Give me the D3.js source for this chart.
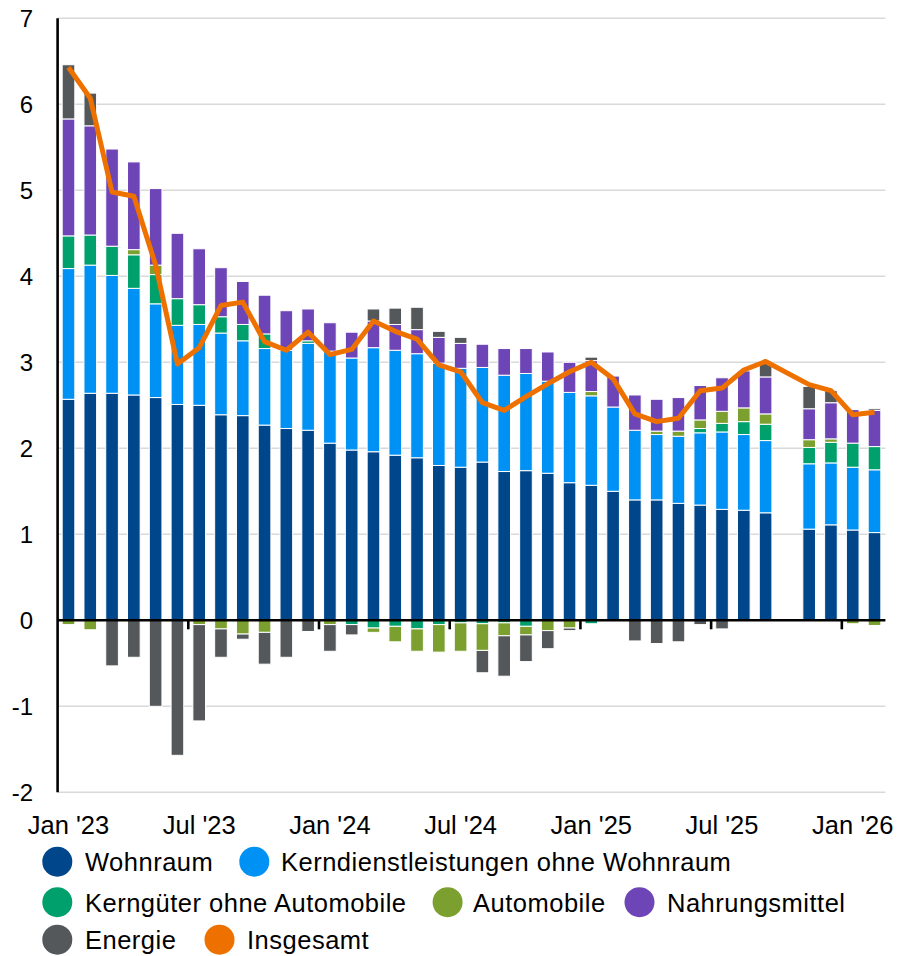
<!DOCTYPE html>
<html>
<head>
<meta charset="utf-8">
<script src="https://cdn.jsdelivr.net/npm/d3@7"></script>
<style>
  html, body { margin: 0; padding: 0; background: #fff; }
  svg { display: block; font-family: "Liberation Sans", Arial, sans-serif; }
</style>
</head>
<body>
<svg id="chart" width="898" height="956"></svg>
<script>
// ---- data (percentage-point contributions to YoY CPI) ----
const months = ["Jan '23","Feb '23","Mar '23","Apr '23","May '23","Jun '23","Jul '23","Aug '23","Sep '23","Oct '23","Nov '23","Dec '23",
  "Jan '24","Feb '24","Mar '24","Apr '24","May '24","Jun '24","Jul '24","Aug '24","Sep '24","Oct '24","Nov '24","Dec '24",
  "Jan '25","Feb '25","Mar '25","Apr '25","May '25","Jun '25","Jul '25","Aug '25","Sep '25","Oct '25","Nov '25","Dec '25",
  "Jan '26","Feb '26"];
const tickLabels = ["Jan '23","Jul '23","Jan '24","Jul '24","Jan '25","Jul '25","Jan '26"];
const yTicks = [-2,-1,0,1,2,3,4,5,6,7];

const wohnraum = [2.57,2.64,2.64,2.62,2.59,2.51,2.50,2.39,2.38,2.27,2.23,2.21,
  2.06,1.98,1.96,1.92,1.89,1.80,1.78,1.84,1.73,1.74,1.71,1.60,
  1.57,1.50,1.40,1.40,1.36,1.34,1.29,1.28,1.25,null,1.06,1.11,
  1.05,1.02];
const kerndienst = [1.52,1.49,1.37,1.24,1.09,0.92,0.94,0.95,0.87,0.89,0.91,1.01,
  1.07,1.07,1.21,1.22,1.21,1.19,1.15,1.10,1.12,1.13,1.07,1.05,
  1.04,0.98,0.81,0.76,0.78,0.84,0.90,0.88,0.84,null,0.76,0.72,
  0.73,0.73];
const kerngueter = [0.38,0.35,0.34,0.39,0.34,0.31,0.23,0.19,0.19,0.17,0.00,0.03,
  0.00,-0.05,-0.09,-0.07,-0.10,-0.05,-0.03,-0.04,-0.03,-0.07,0.00,0.00,
  -0.04,0.00,0.00,0.00,0.00,0.05,0.10,0.15,0.19,null,0.19,0.24,
  0.28,0.27];
const automobile = [-0.05,-0.11,0.00,0.06,0.11,0.00,-0.05,-0.10,-0.16,-0.14,0.00,0.00,
  -0.05,0.00,-0.05,-0.18,-0.26,-0.32,-0.33,-0.31,-0.15,-0.10,-0.12,-0.09,
  0.05,0.00,0.00,0.04,0.06,0.10,0.14,0.16,0.12,null,0.09,0.04,
  -0.04,-0.06];
const nahrung = [1.36,1.27,1.13,1.02,0.89,0.76,0.65,0.57,0.50,0.45,0.46,0.37,
  0.33,0.30,0.31,0.30,0.28,0.30,0.29,0.27,0.31,0.29,0.34,0.35,
  0.36,0.36,0.41,0.37,0.39,0.40,0.39,0.43,0.43,null,0.36,0.42,
  0.39,0.42];
const energie = [0.63,0.38,-0.53,-0.43,-1.00,-1.57,-1.12,-0.33,-0.06,-0.37,-0.43,-0.13,
  -0.31,-0.12,0.14,0.19,0.26,0.07,0.07,-0.26,-0.47,-0.31,-0.21,-0.03,
  0.04,0.00,-0.24,-0.27,-0.25,-0.05,-0.10,0.00,0.16,null,0.26,0.14,
  0.00,0.02];
const insgesamt = [6.43,6.07,4.98,4.93,4.13,2.98,3.17,3.66,3.70,3.24,3.14,3.35,
  3.09,3.15,3.48,3.36,3.27,2.97,2.89,2.53,2.44,2.60,2.75,2.89,
  3.00,2.81,2.40,2.31,2.35,2.67,2.70,2.91,3.01,null,2.74,2.67,
  2.39,2.42];

const seriesNames = ["Wohnraum","Kerndienstleistungen ohne Wohnraum","Kerngüter ohne Automobile","Automobile","Nahrungsmittel","Energie"];
const seriesArrays = [wohnraum,kerndienst,kerngueter,automobile,nahrung,energie];
const colors = ["#00468b","#0091f4","#00a06c","#7ba02f","#6e45b7","#54585a"];
const lineColor = "#ee7100";

// ---- build table ----
const rows = months.map((m,i) => {
  const r = {month: m, i: i, total: insgesamt[i]};
  seriesNames.forEach((s,k) => r[s] = seriesArrays[k][i]);
  return r;
});
const present = rows.filter(r => r[seriesNames[0]] !== null);

// ---- scales ----
const svg = d3.select("#chart");
const x = d3.scaleBand().domain(months).range([57.6, 885.4]).paddingInner(0.42).paddingOuter(0.21);
const y = d3.scaleLinear().domain([-2, 7]).range([792.3, 18.3]);
const x0 = 57.6, x1 = 885.4;

// gridlines
svg.append("g").selectAll("line").data(yTicks.filter(d => d !== 0)).join("line")
  .attr("x1", x0).attr("x2", x1)
  .attr("y1", d => y(d)).attr("y2", d => y(d))
  .attr("stroke", "#d9d9d9").attr("stroke-width", 1.5);

// bars
const stack = d3.stack().keys(seriesNames).offset(d3.stackOffsetDiverging);
const stacked = stack(present);
svg.append("g").selectAll("g").data(stacked).join("g")
  .attr("fill", (d,k) => colors[k])
  .selectAll("rect").data(d => d).join("rect")
  .attr("x", d => x(d.data.month))
  .attr("width", x.bandwidth())
  .attr("y", d => y(Math.max(d[0], d[1])))
  .attr("height", d => Math.abs(y(d[0]) - y(d[1])))
  .attr("stroke", "#fff").attr("stroke-width", 1);

// zero line
svg.append("line").attr("x1", x0).attr("x2", x1).attr("y1", y(0)).attr("y2", y(0))
  .attr("stroke", "#000").attr("stroke-width", 2.6);

// x ticks at category boundaries
svg.append("g").selectAll("line").data(tickLabels.slice(1)).join("line")
  .attr("x1", d => x(d) - x.step() * x.paddingInner() / 2)
  .attr("x2", d => x(d) - x.step() * x.paddingInner() / 2)
  .attr("y1", y(0)).attr("y2", y(0) + 9)
  .attr("stroke", "#000").attr("stroke-width", 2.6);

// y axis line
svg.append("line").attr("x1", x0).attr("x2", x0).attr("y1", y(7)).attr("y2", y(-2))
  .attr("stroke", "#000").attr("stroke-width", 2.6);

// line
const line = d3.line().x(d => x(d.month) + x.bandwidth() / 2).y(d => y(d.total));
svg.append("path").datum(rows.filter(r => r.total !== null))
  .attr("d", line).attr("fill", "none")
  .attr("stroke", lineColor).attr("stroke-width", 5)
  .attr("stroke-linejoin", "round").attr("stroke-linecap", "butt");

// y labels
svg.append("g").selectAll("text").data(yTicks).join("text")
  .attr("x", 33).attr("y", d => y(d)).attr("dy", "0.36em")
  .attr("text-anchor", "end").attr("font-size", 24).attr("fill", "#000")
  .text(d => d);

// x labels
svg.append("g").selectAll("text").data(tickLabels).join("text")
  .attr("x", d => x(d) + x.bandwidth() / 2).attr("y", 834)
  .attr("text-anchor", "middle").attr("font-size", 25.5).attr("fill", "#000")
  .text(d => d);

// legend
const legendItems = [
  {name: seriesNames[0], color: colors[0], cx: 57.3, tx: 85, cy: 861.7},
  {name: seriesNames[1], color: colors[1], cx: 254.3, tx: 281, cy: 861.7},
  {name: seriesNames[2], color: colors[2], cx: 57.3, tx: 85, cy: 902.2},
  {name: seriesNames[3], color: colors[3], cx: 447.6, tx: 473, cy: 902.2},
  {name: seriesNames[4], color: colors[4], cx: 639.5, tx: 667, cy: 902.2},
  {name: seriesNames[5], color: colors[5], cx: 57.3, tx: 85, cy: 939.7},
  {name: "Insgesamt", color: lineColor, cx: 219.5, tx: 247, cy: 939.7}
];
const lg = svg.append("g").selectAll("g").data(legendItems).join("g");
lg.append("circle").attr("cx", d => d.cx).attr("cy", d => d.cy).attr("r", 15).attr("fill", d => d.color);
lg.append("text").attr("x", d => d.tx).attr("y", d => d.cy + 9.3)
  .attr("font-size", 25.5).attr("letter-spacing", 0.5).attr("fill", "#000").text(d => d.name);
</script>
</body>
</html>
